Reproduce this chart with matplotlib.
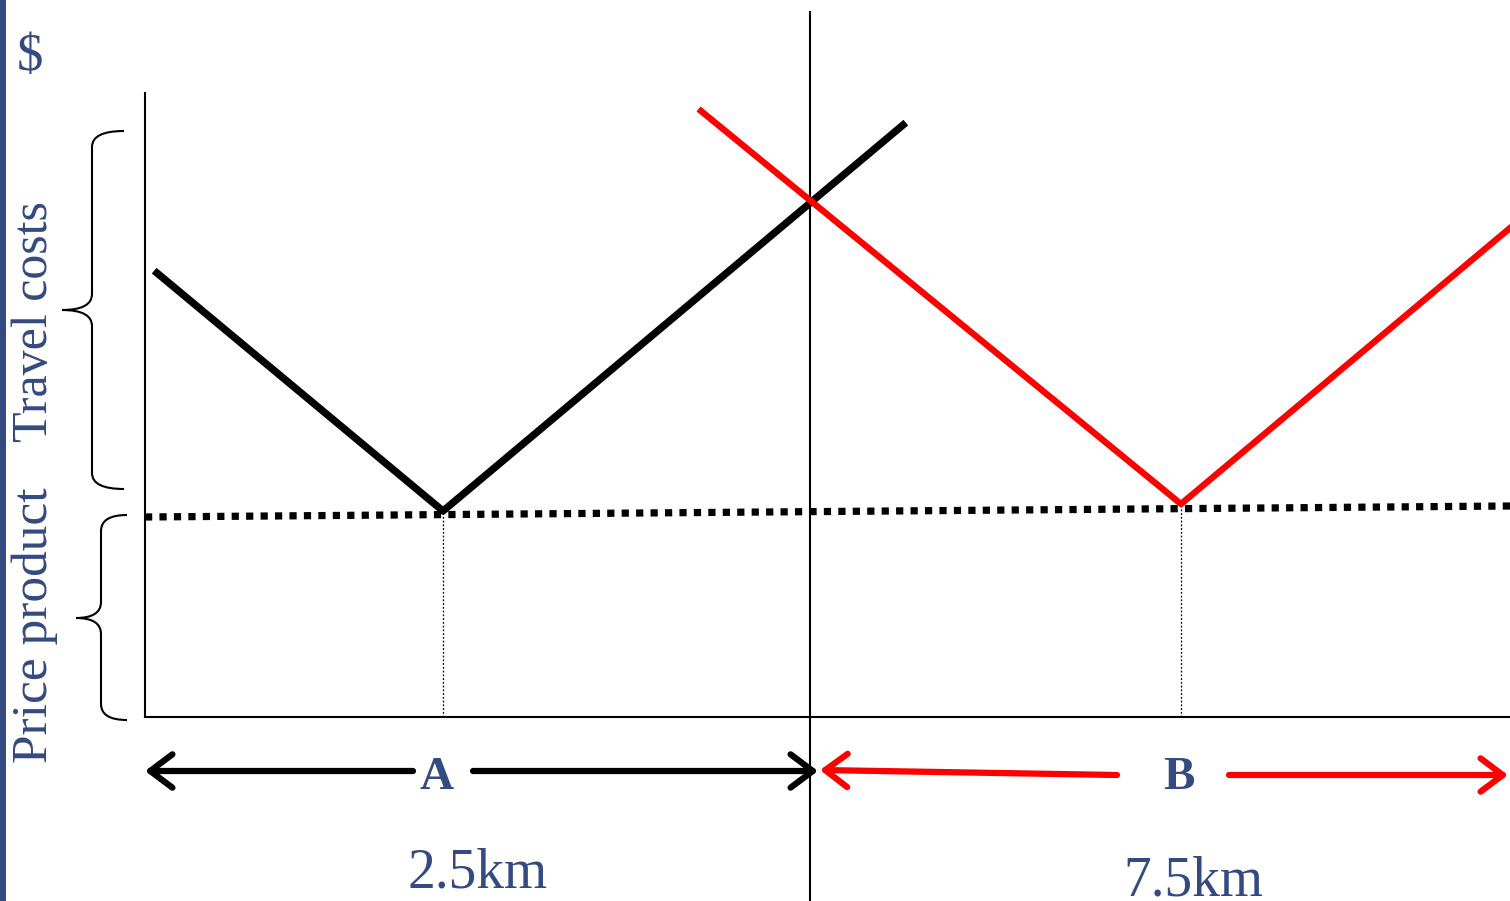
import matplotlib.pyplot as plt
from matplotlib.path import Path
from matplotlib.patches import PathPatch

# Coordinates: x = distance from the price axis, y = height above the distance axis
black_x = [12, 298, 758]
black_y = [444, 206, 592]
red_x = [556, 1036, 1365]
red_y = [606, 213, 489]
price_x = [0, 1365]
price_y = [200, 211]
stores_x = [298, 1036]
stores_y = [206, 213]
boundary_x = 665

labels = ['A', 'B']
label_x = [292, 1034]
dist_labels = ['2.5km', '7.5km']
dist_x = [333, 1048]

blue = '#344a80'
red = '#ff0000'
serif = ['Liberation Serif', 'DejaVu Serif']

fig = plt.figure(figsize=(15.1, 9.01), dpi=100)
ax = fig.add_axes([0, 0, 1, 1])
ax.set_xlim(-145, 1365)
ax.set_ylim(-184, 717)
ax.axis('off')

# blue strip on the left
ax.axvspan(-145, -139, color=blue, lw=0)

# axes
ax.plot([0, 0], [0, 624], color='black', lw=1.5)
ax.plot([0, 1365], [0, 0], color='black', lw=1.5)
ax.plot([boundary_x, boundary_x], [-184, 705], color='black', lw=1.5)

# price line and store drop lines
ax.plot(price_x, price_y, color='black', lw=5.2, linestyle=(0, (1, 1)), solid_capstyle='butt')
for sx, sy in zip(stores_x, stores_y):
    ax.plot([sx, sx], [0, sy], color='black', lw=0.9, linestyle=(0, (1.5, 1.5)))

# delivered price lines
ax.plot(black_x, black_y, color='black', lw=5.3)
ax.plot(red_x, red_y, color=red, lw=4.6)


def brace(top, bottom, tip_y, tip_x, spine_x, end_x, r=16):
    verts = [(end_x, top), (spine_x, top), (spine_x, top - r),
             (spine_x, tip_y + r),
             (spine_x, tip_y), (tip_x, tip_y),
             (spine_x, tip_y), (spine_x, tip_y - r),
             (spine_x, bottom + r),
             (spine_x, bottom), (end_x, bottom)]
    codes = [Path.MOVETO, Path.CURVE3, Path.CURVE3, Path.LINETO,
             Path.CURVE3, Path.CURVE3, Path.CURVE3, Path.CURVE3,
             Path.LINETO, Path.CURVE3, Path.CURVE3]
    ax.add_patch(PathPatch(Path(verts, codes), fill=False, lw=1.5, color='black'))


brace(586, 228, 407, -83, -53, -21)
brace(202, -3, 99, -69, -44, -18)

# arrows under the axis
arr = dict(lw=4.5, shrinkA=0, shrinkB=0, mutation_scale=20)
head = '->,head_length=0.8,head_width=0.6'
ax.annotate('', xy=(0, -54), xytext=(268, -54),
            arrowprops=dict(arrowstyle=head, color='black', **arr))
ax.annotate('', xy=(673, -54), xytext=(328, -54),
            arrowprops=dict(arrowstyle=head, color='black', **arr))
ax.annotate('', xy=(675, -53), xytext=(972, -58),
            arrowprops=dict(arrowstyle=head, color=red, **arr))
ax.annotate('', xy=(1363, -58), xytext=(1084, -58),
            arrowprops=dict(arrowstyle=head, color=red, **arr))

for lab, lx in zip(labels, label_x):
    ax.text(lx, -61, lab, color=blue, fontsize=34, fontweight='bold', family=serif,
            ha='center', va='center')
for lab, lx, ly in zip(dist_labels, dist_x, [-156, -164]):
    ax.text(lx, ly, lab, color=blue, fontsize=40, family=serif, ha='center', va='center')

# y-axis texts
ax.text(-115, 660, '$', color=blue, fontsize=38, family=serif,
        ha='center', va='center')
ax.text(-110, 395, 'Travel costs', color=blue, fontsize=36, family=serif, rotation=90,
        ha='center', va='center')
ax.text(-110, 92, 'Price product', color=blue, fontsize=37, family=serif, rotation=90,
        ha='center', va='center')

fig.savefig('out.png', dpi=100)
